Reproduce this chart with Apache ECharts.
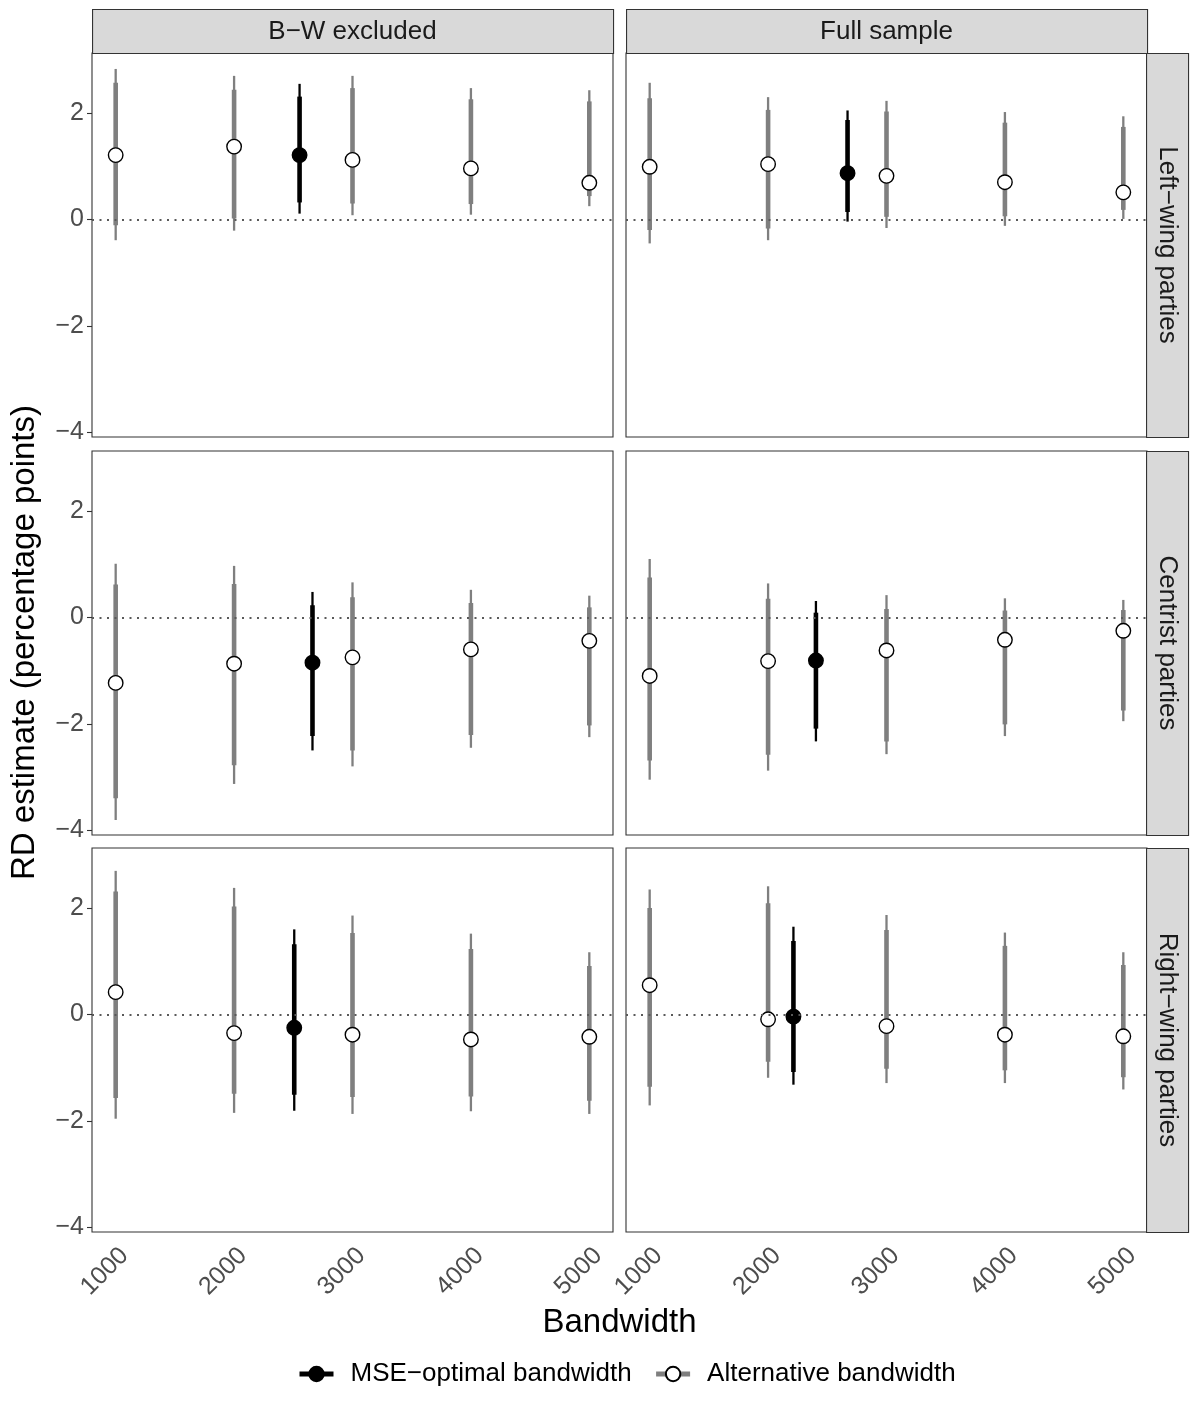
<!DOCTYPE html>
<html>
<head>
<meta charset="utf-8">
<script src="https://cdn.jsdelivr.net/npm/echarts@6/dist/echarts.min.js"></script>
<style>
html,body{margin:0;padding:0;background:#fff;}
#chart{width:1190px;height:1414px;}
</style>
</head>
<body>
<div id="chart"></div>
<script>
// ---------- data ----------
const xTicks = [1000, 2000, 3000, 4000, 5000];
const yTicks = [-4, -2, 0, 2];
const colLabels = ['B−W excluded', 'Full sample'];
const rowLabels = ['Left−wing parties', 'Centrist parties', 'Right−wing parties'];
const legendLabels = ['MSE−optimal bandwidth', 'Alternative bandwidth'];
const xTitle = 'Bandwidth';
const yTitle = 'RD estimate (percentage points)';

// columns: bandwidth, estimate, lo95, lo90, hi90, hi95, optimal(1)/alternative(0)
const leftExcluded = [
  [1000, 1.21, -0.39, -0.11, 2.57, 2.83, 0],
  [2000, 1.37, -0.21, 0.02, 2.44, 2.70, 0],
  [2553, 1.21, 0.11, 0.32, 2.31, 2.55, 1],
  [3000, 1.12, 0.08, 0.30, 2.47, 2.70, 0],
  [4000, 0.96, 0.09, 0.29, 2.26, 2.47, 0],
  [5000, 0.69, 0.25, 0.44, 2.22, 2.43, 0]
];
const leftFull = [
  [1000, 0.99, -0.45, -0.20, 2.28, 2.57, 0],
  [2000, 1.04, -0.39, -0.17, 2.06, 2.30, 0],
  [2671, 0.87, -0.04, 0.14, 1.87, 2.05, 1],
  [3000, 0.82, -0.16, 0.05, 2.03, 2.23, 0],
  [4000, 0.70, -0.12, 0.06, 1.82, 2.02, 0],
  [5000, 0.51, 0.01, 0.18, 1.74, 1.94, 0]
];
const centristExcluded = [
  [1000, -1.23, -3.81, -3.40, 0.62, 1.01, 0],
  [2000, -0.87, -3.13, -2.78, 0.63, 0.97, 0],
  [2662, -0.85, -2.50, -2.23, 0.23, 0.48, 1],
  [3000, -0.75, -2.80, -2.50, 0.38, 0.66, 0],
  [4000, -0.60, -2.45, -2.21, 0.27, 0.52, 0],
  [5000, -0.44, -2.25, -2.03, 0.19, 0.41, 0]
];
const centristFull = [
  [1000, -1.10, -3.05, -2.69, 0.75, 1.10, 0],
  [2000, -0.82, -2.88, -2.58, 0.35, 0.64, 0],
  [2404, -0.81, -2.33, -2.09, 0.09, 0.31, 1],
  [3000, -0.62, -2.57, -2.33, 0.16, 0.42, 0],
  [4000, -0.42, -2.23, -2.01, 0.13, 0.36, 0],
  [5000, -0.25, -1.95, -1.75, 0.14, 0.33, 0]
];
const rightExcluded = [
  [1000, 0.42, -1.96, -1.57, 2.31, 2.70, 0],
  [2000, -0.35, -1.85, -1.49, 2.03, 2.38, 0],
  [2508, -0.25, -1.81, -1.51, 1.32, 1.60, 1],
  [3000, -0.38, -1.87, -1.55, 1.53, 1.86, 0],
  [4000, -0.47, -1.82, -1.54, 1.23, 1.52, 0],
  [5000, -0.42, -1.87, -1.62, 0.91, 1.17, 0]
];
const rightFull = [
  [1000, 0.55, -1.71, -1.36, 2.00, 2.35, 0],
  [2000, -0.09, -1.19, -0.89, 2.09, 2.41, 0],
  [2214, -0.04, -1.32, -1.08, 1.38, 1.65, 1],
  [3000, -0.22, -1.29, -1.02, 1.59, 1.87, 0],
  [4000, -0.38, -1.29, -1.05, 1.29, 1.54, 0],
  [5000, -0.41, -1.41, -1.18, 0.93, 1.17, 0]
];

const panels = [
  [leftExcluded, leftFull],
  [centristExcluded, centristFull],
  [rightExcluded, rightFull]
];

// ---------- layout ----------
const FONT = '"Liberation Sans", Arial, Helvetica, sans-serif';
const colX = [92, 626];
const colW = 521;
const rowY = [53, 451, 848];
const rowH = 384;
const stripTop = 9;
const stripRightX = 1146;
const stripW = 42;
const X_MIN = 800, X_MAX = 5200;
const Y_MIN = -4.09, Y_MAX = 3.13;
const ALT_COL = '#7f7f7f';
const OPT_COL = '#000000';

const grids = [], xAxes = [], yAxes = [], series = [];
let gi = 0;
for (let r = 0; r < 3; r++) {
  for (let c = 0; c < 2; c++) {
    grids.push({
      left: colX[c], top: rowY[r], width: colW, height: rowH,
      show: true, borderColor: '#333333', borderWidth: 1.1, backgroundColor: '#ffffff', z: 0
    });
    const bottom = r === 2;
    const leftCol = c === 0;
    xAxes.push({
      type: 'value', gridIndex: gi, min: X_MIN, max: X_MAX,
      axisLine: { show: false },
      splitLine: { show: false },
      axisTick: { show: bottom, customValues: xTicks, length: 5, lineStyle: { color: '#333333', width: 1.1 } },
      axisLabel: {
        show: bottom, customValues: xTicks, rotate: 45, margin: 11,
        align: 'right', verticalAlign: 'top',
        fontSize: 25, color: '#4d4d4d', fontFamily: FONT,
        formatter: v => String(v)
      }
    });
    yAxes.push({
      type: 'value', gridIndex: gi, min: Y_MIN, max: Y_MAX,
      axisLine: { show: false },
      splitLine: { show: false },
      axisTick: { show: leftCol, customValues: yTicks, length: 5, lineStyle: { color: '#333333', width: 1.1 } },
      axisLabel: {
        show: leftCol, customValues: yTicks, margin: 8,
        fontSize: 25, color: '#4d4d4d', fontFamily: FONT,
        formatter: v => String(v).replace('-', '−')
      }
    });
    // zero reference line
    series.push({
      type: 'line', xAxisIndex: gi, yAxisIndex: gi, data: [], silent: true, z: 1,
      markLine: {
        silent: true, symbol: 'none', label: { show: false },
        lineStyle: { color: '#5a5a5a', type: [2, 5.5], width: 1.8 },
        data: [{ yAxis: 0 }]
      }
    });
    const d = panels[r][c];
    // error bars
    series.push({
      type: 'custom', name: 'ci' + gi, xAxisIndex: gi, yAxisIndex: gi, z: 2,
      data: d,
      encode: { x: 0, y: [2, 5] },
      renderItem: function (params, api) {
        const x = api.value(0);
        const opt = api.value(6) === 1;
        const col = opt ? OPT_COL : ALT_COL;
        const p95a = api.coord([x, api.value(2)]);
        const p95b = api.coord([x, api.value(5)]);
        const p90a = api.coord([x, api.value(3)]);
        const p90b = api.coord([x, api.value(4)]);
        return {
          type: 'group',
          children: [
            { type: 'line', shape: { x1: p95a[0], y1: p95a[1], x2: p95b[0], y2: p95b[1] },
              style: { stroke: col, lineWidth: 2.3, lineCap: 'butt' } },
            { type: 'line', shape: { x1: p90a[0], y1: p90a[1], x2: p90b[0], y2: p90b[1] },
              style: { stroke: col, lineWidth: 4.6, lineCap: 'butt' } }
          ]
        };
      }
    });
    // points
    series.push({
      type: 'scatter', name: 'pt' + gi, xAxisIndex: gi, yAxisIndex: gi, z: 3,
      data: d.map(row => ({
        value: [row[0], row[1]],
        itemStyle: { color: row[6] === 1 ? '#000000' : '#ffffff', borderColor: '#000000', borderWidth: 1.4, opacity: 1 }
      })),
      symbol: 'circle', symbolSize: 14.5,
      itemStyle: { opacity: 1 }
    });
    gi++;
  }
}

// legend dummy series
series.push({
  type: 'line', name: legendLabels[0], xAxisIndex: 0, yAxisIndex: 0, data: [],
  symbol: 'circle', symbolSize: 14,
  lineStyle: { color: OPT_COL, width: 5 },
  itemStyle: { color: '#000000', borderColor: '#000000', borderWidth: 1.4 }
});
series.push({
  type: 'line', name: legendLabels[1], xAxisIndex: 0, yAxisIndex: 0, data: [],
  symbol: 'circle', symbolSize: 14,
  lineStyle: { color: ALT_COL, width: 5 },
  itemStyle: { color: '#ffffff', borderColor: '#000000', borderWidth: 1.4 }
});

// strips & titles
const graphics = [];
for (let c = 0; c < 2; c++) {
  graphics.push({
    type: 'rect', left: colX[c], top: stripTop, z: 10,
    shape: { width: colW, height: rowY[0] - stripTop },
    style: { fill: '#d9d9d9', stroke: '#333333', lineWidth: 1.1 }
  });
  graphics.push({
    type: 'text', z: 11,
    x: colX[c] + colW / 2, y: (stripTop + rowY[0]) / 2 + 1,
    style: { text: colLabels[c], fontSize: 26, fontFamily: FONT, fill: '#1a1a1a', align: 'center', verticalAlign: 'middle' }
  });
}
for (let r = 0; r < 3; r++) {
  graphics.push({
    type: 'rect', left: stripRightX, top: rowY[r], z: 10,
    shape: { width: stripW, height: rowH },
    style: { fill: '#d9d9d9', stroke: '#333333', lineWidth: 1.1 }
  });
  graphics.push({
    type: 'text', z: 11,
    x: stripRightX + stripW / 2, y: rowY[r] + rowH / 2, rotation: -Math.PI / 2,
    style: { text: rowLabels[r], fontSize: 26, fontFamily: FONT, fill: '#1a1a1a', align: 'center', verticalAlign: 'middle' }
  });
}
graphics.push({
  type: 'text', z: 11, x: (colX[0] + colX[1] + colW) / 2, y: 1323,
  style: { text: xTitle, fontSize: 33, fontFamily: FONT, fill: '#000000', align: 'center', verticalAlign: 'middle' }
});
graphics.push({
  type: 'text', z: 11, x: 25, y: (rowY[0] + rowY[2] + rowH) / 2, rotation: Math.PI / 2,
  style: { text: yTitle, fontSize: 33, fontFamily: FONT, fill: '#000000', align: 'center', verticalAlign: 'middle' }
});

const chart = echarts.init(document.getElementById('chart'), null, { renderer: 'canvas' });
chart.setOption({
  animation: false,
  backgroundColor: '#ffffff',
  grid: grids,
  xAxis: xAxes,
  yAxis: yAxes,
  series: series,
  graphic: graphics,
  legend: {
    data: legendLabels,
    top: 1356, left: 292,
    itemWidth: 34, itemHeight: 18, itemGap: 22,
    lineStyle: { width: 5 },
    textStyle: { fontSize: 26, fontFamily: FONT, color: '#000000', padding: [0, 0, 0, 12] },
    selectedMode: false
  }
});
</script>
</body>
</html>
